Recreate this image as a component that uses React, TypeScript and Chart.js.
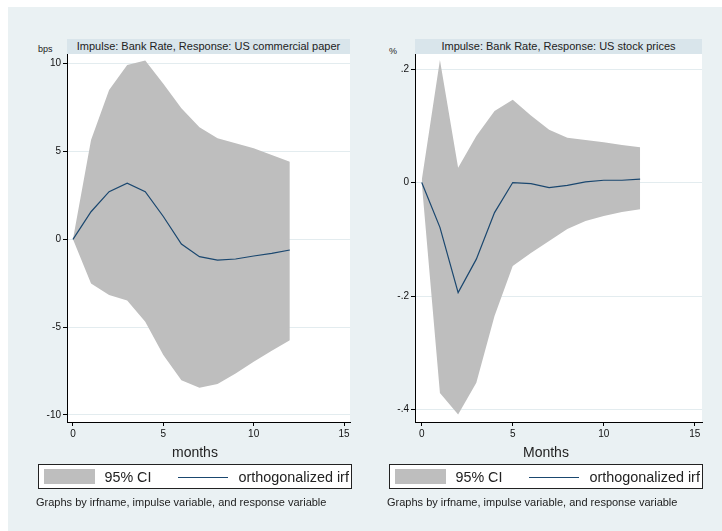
import React, { useEffect, useRef } from "react";
import { Chart, registerables } from "chart.js";
Chart.register(...registerables);

// ---- data ----
const months = [0, 1, 2, 3, 4, 5, 6, 7, 8, 9, 10, 11, 12];
const cpIrf = [0, 1.57, 2.71, 3.19, 2.71, 1.3, -0.27, -0.99, -1.18, -1.12, -0.95, -0.8, -0.61];
const cpUpper = [0, 5.66, 8.5, 9.93, 10.18, 8.85, 7.46, 6.38, 5.75, 5.47, 5.18, 4.8, 4.42];
const cpLower = [0, -2.51, -3.17, -3.48, -4.69, -6.59, -8.02, -8.45, -8.24, -7.64, -6.97, -6.35, -5.74];
const spIrf = [0, -0.079, -0.194, -0.135, -0.053, 0, -0.002, -0.009, -0.005, 0.001, 0.004, 0.004, 0.006];
const spUpper = [0.004, 0.216, 0.026, 0.082, 0.126, 0.146, 0.118, 0.093, 0.079, 0.075, 0.071, 0.066, 0.062];
const spLower = [0, -0.371, -0.409, -0.353, -0.235, -0.147, -0.124, -0.103, -0.082, -0.068, -0.059, -0.052, -0.047];

const xTicks = [0, 5, 10, 15];
const xTickLabels = ["0", "5", "10", "15"];
const cpYTicks = [-10, -5, 0, 5, 10];
const cpYTickLabels = ["-10", "-5", "0", "5", "10"];
const spYTicks = [-0.4, -0.2, 0, 0.2];
const spYTickLabels = ["-.4", "-.2", "0", ".2"];

const FONT = "'Liberation Sans', Arial, Helvetica, sans-serif";
const BG = "#eaf1f3";
const TITLE_BG = "#d9e5eb";
const CI_COLOR = "#bebebe";
const IRF_COLOR = "#1a476f";
const GRID = "#e3ecef";

const plotBg = {
  id: "plotBg",
  beforeDraw(chart: any) {
    const { ctx, chartArea: a } = chart;
    ctx.save();
    ctx.fillStyle = "#ffffff";
    ctx.fillRect(a.left, a.top, a.right - a.left, a.bottom - a.top);
    ctx.restore();
  },
};

function pts(ys: number[]) {
  return months.map((m, i) => ({ x: m, y: ys[i] }));
}

function makeConfig(
  irf: number[], up: number[], lo: number[],
  yMin: number, yMax: number, xMin: number, xMax: number,
  yTicks: number[], yLabels: string[]
): any {
  return {
    type: "line",
    data: {
      datasets: [
        { label: "orthogonalized irf", data: pts(irf), borderColor: IRF_COLOR, borderWidth: 1.2, pointRadius: 0, fill: false, tension: 0 },
        { label: "95% CI", data: pts(up), borderWidth: 0, borderColor: "rgba(0,0,0,0)", backgroundColor: CI_COLOR, pointRadius: 0, fill: "+1", tension: 0 },
        { label: "lower", data: pts(lo), borderWidth: 0, borderColor: "rgba(0,0,0,0)", pointRadius: 0, fill: false, tension: 0 },
      ],
    },
    options: {
      animation: false,
      responsive: false,
      devicePixelRatio: 1,
      layout: { padding: { top: 10, right: 10, left: 0, bottom: 0 } },
      plugins: { legend: { display: false }, tooltip: { enabled: false }, title: { display: false } },
      scales: {
        x: {
          type: "linear", min: xMin, max: xMax,
          afterBuildTicks: (s: any) => { s.ticks = xTicks.map((v) => ({ value: v })); },
          afterFit: (s: any) => { s.height = 22; },
          grid: { drawOnChartArea: false, drawTicks: true, tickLength: 4, tickColor: "#000" },
          border: { color: "#000", width: 1 },
          ticks: { font: { family: FONT, size: 10 }, color: "#111", padding: 2, maxRotation: 0, autoSkip: false,
            callback: (_v: any, i: number) => xTickLabels[i] },
        },
        y: {
          type: "linear", min: yMin, max: yMax,
          afterBuildTicks: (s: any) => { s.ticks = yTicks.map((v) => ({ value: v })); },
          afterFit: (s: any) => { s.width = 47; },
          grid: { color: GRID, lineWidth: 1, drawTicks: true, tickLength: 4, tickColor: "#000" },
          border: { color: "#000", width: 1 },
          ticks: { font: { family: FONT, size: 10 }, color: "#111", padding: 2, autoSkip: false,
            callback: (_v: any, i: number) => yLabels[i] },
        },
      },
    },
    plugins: [plotBg],
  };
}

const abs = (l: number, t: number, extra: any = {}) => ({ position: "absolute" as const, left: l, top: t, ...extra });

function Legend({ left }: { left: number }) {
  return (
    <div style={abs(left, 464, { width: 314, height: 25, boxSizing: "border-box", border: "1.5px solid #222", background: "#fff", overflow: "hidden" })}>
      <div style={abs(4.5, 3.5, { width: 51, height: 15, background: CI_COLOR })} />
      <div style={abs(65.5, 1.5, { fontSize: 14.3, lineHeight: "20px", color: "#222", whiteSpace: "nowrap" })}>95% CI</div>
      <div style={abs(138.5, 11.5, { width: 50, height: 1.2, background: IRF_COLOR })} />
      <div style={abs(199.5, 1.5, { fontSize: 14.4, lineHeight: "20px", color: "#222", whiteSpace: "nowrap" })}>orthogonalized irf</div>
    </div>
  );
}

export default function App() {
  const c1 = useRef<HTMLCanvasElement>(null);
  const c2 = useRef<HTMLCanvasElement>(null);
  useEffect(() => {
    const a = new Chart(c1.current!, makeConfig(cpIrf, cpUpper, cpLower, -10.4, 10.55, -0.33, 15.33, cpYTicks, cpYTickLabels));
    const b = new Chart(c2.current!, makeConfig(spIrf, spUpper, spLower, -0.422, 0.2265, -0.37, 15.4, spYTicks, spYTickLabels));
    return () => { a.destroy(); b.destroy(); };
  }, []);

  return (
    <div style={{ position: "absolute", left: 0, top: 0, width: 722, height: 531, background: "#fff", fontFamily: FONT, overflow: "hidden" }}>
      <div style={abs(8, 7, { width: 714, height: 524, background: BG })} />

      {/* left panel */}
      <div style={abs(67, 39, { width: 283, height: 15, background: TITLE_BG, fontSize: 11, lineHeight: "15px", textAlign: "center", color: "#222", whiteSpace: "nowrap" })}>
        Impulse: Bank Rate, Response: US commercial paper
      </div>
      <div style={abs(38, 44, { fontSize: 9, lineHeight: "11px", color: "#222" })}>bps</div>
      <canvas ref={c1} width={340} height={400} style={abs(20, 44, { width: 340, height: 400 })} />
      <div style={abs(172, 443, { fontSize: 14, lineHeight: "18px", color: "#222" })}>months</div>
      <Legend left={38} />
      <div style={abs(36, 496, { fontSize: 11, lineHeight: "12px", color: "#222", whiteSpace: "nowrap" })}>
        Graphs by irfname, impulse variable, and response variable
      </div>

      {/* right panel */}
      <div style={abs(415, 39, { width: 287, height: 15, background: TITLE_BG, fontSize: 11, lineHeight: "15px", textAlign: "center", color: "#222", whiteSpace: "nowrap" })}>
        Impulse: Bank Rate, Response: US stock prices
      </div>
      <div style={abs(389, 46, { fontSize: 9, lineHeight: "11px", color: "#222" })}>%</div>
      <canvas ref={c2} width={344} height={400} style={abs(368, 44, { width: 344, height: 400 })} />
      <div style={abs(523, 443, { fontSize: 14, lineHeight: "18px", color: "#222" })}>Months</div>
      <Legend left={389} />
      <div style={abs(387, 496, { fontSize: 11, lineHeight: "12px", color: "#222", whiteSpace: "nowrap" })}>
        Graphs by irfname, impulse variable, and response variable
      </div>
    </div>
  );
}
